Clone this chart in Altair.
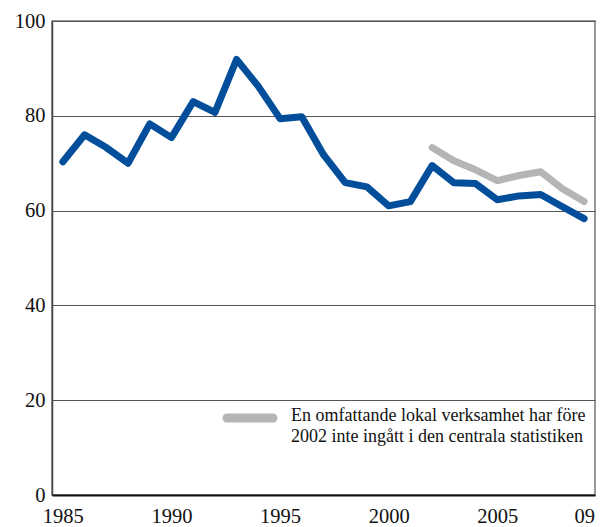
import altair as alt
import pandas as pd

years = list(range(1985, 2010))
blue_values = [70.3, 76.0, 73.3, 70.0, 78.3, 75.4, 83.0, 80.7, 91.9, 86.2, 79.4, 79.8,
               71.8, 65.9, 65.0, 61.0, 61.9, 69.5, 65.9, 65.7, 62.3, 63.1, 63.4, 60.8, 58.3]
gray_years = list(range(2002, 2010))
gray_values = [73.3, 70.5, 68.6, 66.3, 67.4, 68.2, 64.6, 61.9]
x_ticks = [1985, 1990, 1995, 2000, 2005, 2009]
y_ticks = [0, 20, 40, 60, 80, 100]
legend_text = "En omfattande lokal verksamhet har före\n2002 inte ingått i den centrala statistiken"

FONT = "'Liberation Serif', 'Times New Roman', serif"
BLUE = "#034e9a"
GRAY = "#b4b5b7"

blue_df = pd.DataFrame({"year": years, "value": blue_values})
gray_df = pd.DataFrame({"year": gray_years, "value": gray_values})

x = alt.X("year:Q", scale=alt.Scale(domain=[1984.5, 2009.5], nice=False, zero=False),
          axis=alt.Axis(values=x_ticks, title=None, ticks=False, grid=False,
                        labelExpr="datum.value == 2009 ? '09' : datum.value",
                        labelFont=FONT, labelFontSize=20.5, labelColor="#111",
                        domainColor="#111", domainWidth=2, labelPadding=11,
                        labelFlush=False))
y = alt.Y("value:Q", scale=alt.Scale(domain=[0, 100], nice=False),
          axis=alt.Axis(values=y_ticks, title=None, ticks=False, grid=True,
                        gridColor="#555", gridWidth=1.2, labelFont=FONT,
                        labelFontSize=20.5, labelColor="#111", domainColor="#444",
                        domainWidth=1.5, labelPadding=7, labelFlush=False))

blue = alt.Chart(blue_df).mark_line(color=BLUE, strokeWidth=7, strokeCap="round",
                                    strokeJoin="round").encode(x=x, y=y)
gray = alt.Chart(gray_df).mark_line(color=GRAY, strokeWidth=7, strokeCap="round",
                                    strokeJoin="round").encode(x="year:Q", y="value:Q")

leg_df = pd.DataFrame({"t": [legend_text]})
leg_line = alt.Chart(leg_df).mark_rule(color=GRAY, strokeWidth=9, strokeCap="round").encode(
    x=alt.value(175), x2=alt.value(221), y=alt.value(397))
leg_text = alt.Chart(leg_df).mark_text(
    align="left", baseline="middle", font=FONT, fontSize=18, color="#111",
    lineBreak="\n", lineHeight=21).encode(
    x=alt.value(239), y=alt.value(395), text="t:N")

chart = alt.layer(gray, blue, leg_line, leg_text).properties(
    width=543, height=474,
    autosize=alt.AutoSizeParams(type="none"),
    padding={"left": 44, "top": 13, "right": 6, "bottom": 30}
).configure_view(stroke="#777", strokeWidth=1.5)

chart.save("out.html", embed_options={"renderer": "svg", "actions": False})
